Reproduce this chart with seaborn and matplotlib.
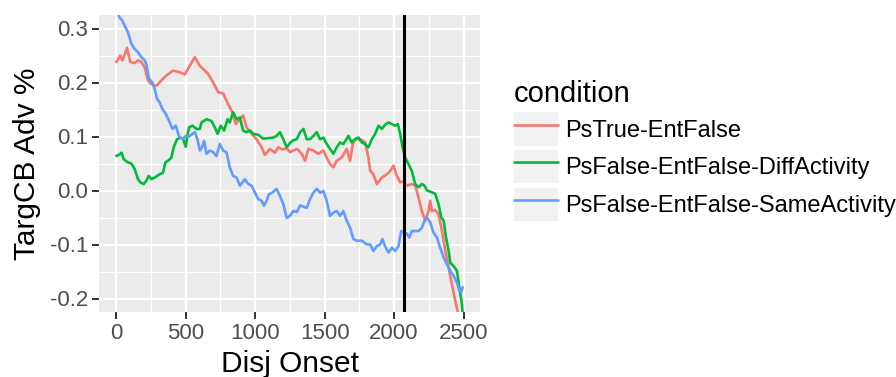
import numpy as np
import pandas as pd
import seaborn as sns
import matplotlib
matplotlib.use("Agg")
import matplotlib.pyplot as plt
from matplotlib.patches import Rectangle
from matplotlib.lines import Line2D
from matplotlib.legend_handler import HandlerTuple

# ---- data -------------------------------------------------------------
conditions = ["PsTrue-EntFalse",
              "PsFalse-EntFalse-DiffActivity",
              "PsFalse-EntFalse-SameActivity"]
colors = ["#F8766D", "#00BA38", "#619CFF"]

ps_true_x = [0, 29, 45, 77, 101, 132, 156, 180, 204, 228, 252, 289, 325, 361, 408,
             457, 493, 529, 565, 601, 625, 661, 697, 733, 769, 805, 830, 861, 877,
             913, 938, 974, 1010, 1046, 1070, 1106, 1142, 1166, 1195, 1227, 1250,
             1274, 1303, 1335, 1359, 1383, 1419, 1455, 1491, 1515, 1539, 1563, 1587,
             1623, 1659, 1683, 1703, 1719, 1755, 1791, 1815, 1828, 1851, 1876, 1912,
             1948, 1972, 1996, 2020, 2044, 2068, 2092, 2128, 2152, 2176, 2200, 2224,
             2248, 2260, 2272, 2296, 2320, 2345, 2369, 2393, 2417, 2441, 2460, 2494]
ps_true_y = [0.238, 0.250, 0.241, 0.264, 0.238, 0.236, 0.241, 0.238, 0.228, 0.204,
             0.197, 0.194, 0.204, 0.213, 0.222, 0.219, 0.215, 0.231, 0.247, 0.231,
             0.225, 0.216, 0.200, 0.182, 0.180, 0.160, 0.148, 0.123, 0.129, 0.139,
             0.117, 0.105, 0.095, 0.080, 0.066, 0.077, 0.070, 0.080, 0.076, 0.078,
             0.071, 0.074, 0.077, 0.068, 0.055, 0.077, 0.074, 0.068, 0.074, 0.061,
             0.049, 0.043, 0.055, 0.061, 0.077, 0.055, 0.086, 0.095, 0.095, 0.089,
             0.061, 0.037, 0.030, 0.012, 0.024, 0.030, 0.036, 0.046, 0.027, 0.015,
             0.017, 0.009, 0.012, 0.009, -0.013, -0.038, -0.056, -0.038, -0.019,
             -0.038, -0.036, -0.044, -0.075, -0.112, -0.143, -0.174, -0.205, -0.226,
             -0.280]

diff_x = [0, 19, 38, 53, 84, 108, 132, 156, 173, 197, 216, 233, 252, 276, 312, 336,
          353, 377, 397, 413, 437, 462, 481, 500, 509, 524, 548, 577, 601, 613, 649,
          685, 709, 729, 752, 776, 801, 817, 841, 866, 890, 913, 938, 962, 986, 1022,
          1058, 1094, 1130, 1154, 1178, 1202, 1227, 1250, 1274, 1299, 1323, 1347,
          1371, 1395, 1419, 1443, 1467, 1491, 1515, 1539, 1563, 1587, 1611, 1635,
          1671, 1695, 1719, 1743, 1768, 1791, 1815, 1840, 1864, 1888, 1912, 1936,
          1960, 1984, 2008, 2027, 2044, 2061, 2080, 2104, 2128, 2152, 2176, 2200,
          2219, 2237, 2260, 2296, 2320, 2340, 2357, 2374, 2393, 2405, 2429, 2453,
          2470, 2489, 2494]
diff_y = [0.064, 0.066, 0.070, 0.058, 0.052, 0.050, 0.040, 0.021, 0.015, 0.012,
          0.018, 0.027, 0.021, 0.024, 0.030, 0.033, 0.052, 0.056, 0.061, 0.080,
          0.095, 0.098, 0.095, 0.081, 0.098, 0.117, 0.120, 0.114, 0.114, 0.126,
          0.132, 0.129, 0.117, 0.105, 0.120, 0.111, 0.132, 0.126, 0.145, 0.132,
          0.135, 0.111, 0.108, 0.111, 0.105, 0.103, 0.096, 0.097, 0.098, 0.101,
          0.108, 0.095, 0.080, 0.088, 0.093, 0.095, 0.108, 0.114, 0.095, 0.095,
          0.101, 0.108, 0.095, 0.098, 0.086, 0.077, 0.068, 0.080, 0.089, 0.086,
          0.101, 0.089, 0.095, 0.098, 0.089, 0.086, 0.080, 0.095, 0.105, 0.120,
          0.114, 0.122, 0.126, 0.123, 0.120, 0.123, 0.105, 0.080, 0.061, 0.049,
          0.036, 0.012, 0.006, 0.012, 0.009, 0.000, -0.002, -0.006, -0.025,
          -0.050, -0.056, -0.087, -0.112, -0.134, -0.140, -0.149, -0.180, -0.211,
          -0.230]

same_x = [0, 12, 29, 43, 60, 84, 108, 132, 156, 180, 204, 216, 235, 260, 276, 293,
          312, 332, 356, 380, 404, 428, 452, 476, 500, 524, 548, 565, 584, 601, 617,
          632, 649, 673, 697, 721, 745, 769, 793, 817, 841, 866, 890, 908, 926, 950,
          974, 998, 1022, 1046, 1063, 1082, 1099, 1123, 1154, 1178, 1202, 1227,
          1250, 1274, 1299, 1323, 1347, 1371, 1395, 1419, 1443, 1467, 1491, 1515,
          1539, 1563, 1587, 1611, 1635, 1659, 1683, 1707, 1731, 1768, 1804, 1828,
          1851, 1876, 1900, 1916, 1936, 1960, 1984, 2008, 2032, 2051, 2068, 2092,
          2109, 2128, 2152, 2176, 2200, 2219, 2237, 2260, 2284, 2308, 2332, 2357,
          2381, 2405, 2429, 2453, 2470, 2484, 2494]
same_y = [0.336, 0.327, 0.318, 0.315, 0.305, 0.293, 0.272, 0.262, 0.256, 0.247,
          0.241, 0.234, 0.207, 0.200, 0.188, 0.170, 0.163, 0.151, 0.142, 0.129,
          0.114, 0.120, 0.100, 0.095, 0.101, 0.100, 0.105, 0.108, 0.095, 0.074,
          0.080, 0.092, 0.068, 0.074, 0.071, 0.064, 0.086, 0.074, 0.071, 0.043,
          0.027, 0.024, 0.009, 0.015, 0.021, 0.012, 0.009, -0.004, -0.016, -0.019,
          -0.028, -0.019, -0.007, -0.004, 0.003, -0.010, -0.025, -0.051, -0.047,
          -0.038, -0.040, -0.028, -0.030, -0.032, -0.016, -0.004, 0.003, -0.004,
          -0.001, -0.019, -0.047, -0.041, -0.038, -0.047, -0.038, -0.056, -0.069,
          -0.090, -0.093, -0.093, -0.100, -0.100, -0.112, -0.103, -0.100, -0.090,
          -0.104, -0.115, -0.106, -0.112, -0.103, -0.075, -0.078, -0.080, -0.087,
          -0.075, -0.075, -0.075, -0.069, -0.056, -0.050, -0.059, -0.078, -0.087,
          -0.106, -0.124, -0.137, -0.149, -0.158, -0.171, -0.186, -0.188, -0.179]

onset_marker = 2068

x_ticks = [0, 500, 1000, 1500, 2000, 2500]
y_ticks = [-0.2, -0.1, 0.0, 0.1, 0.2, 0.3]

# ---- long-format table --------------------------------------------------
df = pd.concat([
    pd.DataFrame({"Disj Onset": ps_true_x, "TargCB Adv %": ps_true_y,
                  "condition": conditions[0]}),
    pd.DataFrame({"Disj Onset": diff_x, "TargCB Adv %": diff_y,
                  "condition": conditions[1]}),
    pd.DataFrame({"Disj Onset": same_x, "TargCB Adv %": same_y,
                  "condition": conditions[2]}),
], ignore_index=True)

# ---- style --------------------------------------------------------------
sns.set_theme(style="darkgrid", rc={
    "axes.facecolor": "#EBEBEB",
    "grid.color": "white",
    "axes.edgecolor": "#EBEBEB",
    "text.color": "black",
    "axes.labelcolor": "black",
})
plt.rcParams["font.family"] = ["Liberation Sans", "DejaVu Sans"]

fig = plt.figure(figsize=(8.96, 3.77), dpi=100)
ax = fig.add_axes([99 / 896, 1 - 312 / 377, 381 / 896, 297 / 377])

sns.lineplot(data=df, x="Disj Onset", y="TargCB Adv %", hue="condition",
             hue_order=conditions, palette=colors, linewidth=1.9,
             estimator=None, sort=True, legend=False, ax=ax)
ax.axvline(onset_marker, color="black", linewidth=2.2)

ax.set_xlim(-124.7, 2618.7)
ax.set_ylim(-0.225, 0.325)
ax.set_xticks(x_ticks)
ax.set_xticklabels([str(t) for t in x_ticks])
ax.set_yticks(y_ticks)
ax.set_yticklabels([f"{t:.1f}" for t in y_ticks])
ax.set_xticks([250, 750, 1250, 1750, 2250], minor=True)
ax.set_yticks([-0.15, -0.05, 0.05, 0.15, 0.25], minor=True)
ax.grid(which="major", color="white", linewidth=1.6)
ax.grid(which="minor", color="white", linewidth=0.8)
for s in ax.spines.values():
    s.set_visible(False)

ax.tick_params(axis="both", which="major", length=5, width=1.4,
               color="#333333", labelcolor="#4D4D4D", labelsize=16, pad=3,
               bottom=True, left=True)
ax.tick_params(axis="both", which="minor", length=0)
ax.set_xlabel("Disj Onset", fontsize=21.5, color="black", labelpad=4.5)
ax.set_ylabel("TargCB Adv %", fontsize=21.5, color="black", labelpad=6)

# ---- legend -------------------------------------------------------------
handles = []
for c in colors:
    box = Rectangle((0, 0), 1, 1, facecolor="#F2F2F2", edgecolor="none")
    ln = Line2D([0], [0], color=c, linewidth=1.9)
    handles.append((box, ln))
leg = fig.legend(handles, conditions, title="condition",
                 handler_map={tuple: HandlerTuple(ndivide=1, pad=0)},
                 loc="upper left", bbox_to_anchor=(514 / 896, 1 - 80 / 377),
                 frameon=False, fontsize=17, title_fontsize=21,
                 handlelength=1.86, handleheight=1.78, handletextpad=0.3,
                 labelspacing=0.19, borderaxespad=0, borderpad=0)
leg._legend_box.align = "left"
for t in leg.get_texts():
    t.set_color("black")
leg.get_title().set_color("black")

fig.savefig("out.png", dpi=100)
